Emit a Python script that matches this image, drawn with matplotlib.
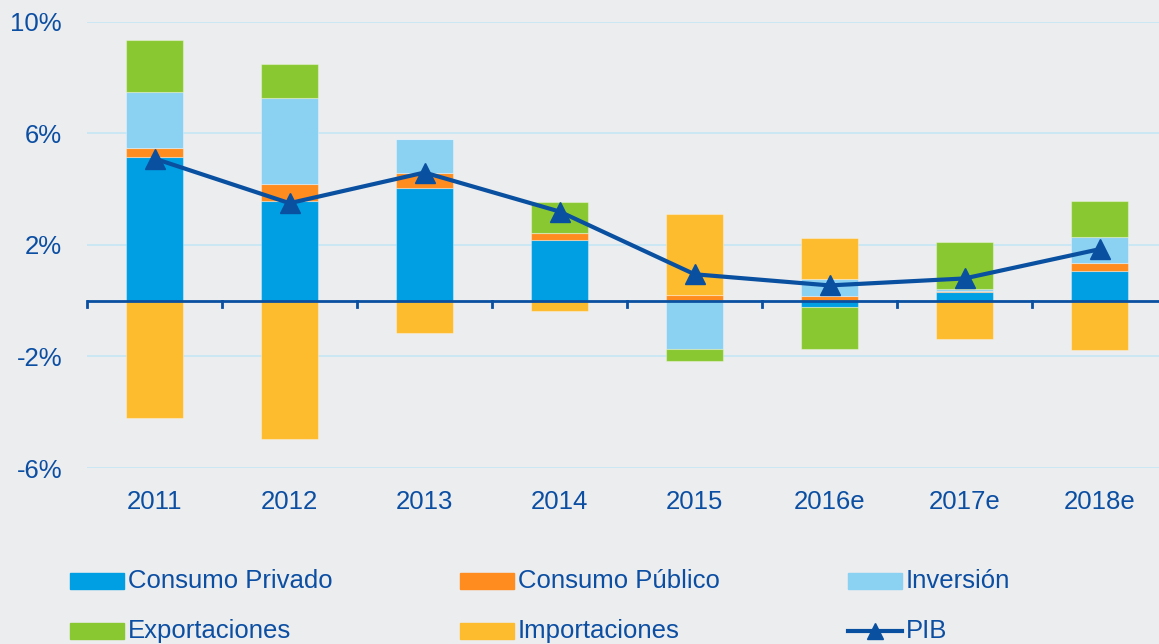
import numpy as np
import matplotlib
matplotlib.use("Agg")
from matplotlib import pyplot as plt
from matplotlib.patches import Rectangle
from matplotlib.lines import Line2D

years = ["2011", "2012", "2013", "2014", "2015", "2016e", "2017e", "2018e"]
consumo_privado = [5.14, 3.58, 4.06, 2.19, 0.0, -0.22, 0.31, 1.05]
consumo_publico = [0.35, 0.60, 0.52, 0.24, 0.22, 0.16, 0.04, 0.32]
inversion = [2.01, 3.08, 1.22, 0.0, -1.72, 0.62, 0.06, 0.93]
exportaciones = [1.86, 1.22, 0.0, 1.13, -0.43, -1.51, 1.71, 1.29]
importaciones = [-4.22, -4.96, -1.16, -0.35, 2.90, 1.47, -1.37, -1.76]
pib = [5.1, 3.5, 4.6, 3.2, 0.95, 0.55, 0.8, 1.85]

bg = "#ECEDEF"
txt = "#0B4EA2"
line_col = "#0A50A1"
series = [
    ("Consumo Privado", consumo_privado, "#009FE3"),
    ("Consumo Público", consumo_publico, "#FF8C1E"),
    ("Inversión", inversion, "#8BD1F2"),
    ("Exportaciones", exportaciones, "#8AC832"),
    ("Importaciones", importaciones, "#FDBB2E"),
]

plt.rcParams["font.family"] = ["Liberation Sans", "DejaVu Sans"]

W, H = 1159, 644
fig = plt.figure(figsize=(W / 100, H / 100), dpi=100, facecolor=bg)
ax = fig.add_axes([87 / W, (H - 468) / H, (W - 87) / W, 446 / H], facecolor=bg)

x = np.arange(len(years))
pos = np.zeros(len(years))
neg = np.zeros(len(years))
for name, vals, color in series:
    v = np.array(vals)
    bottom = np.where(v >= 0, pos, neg)
    ax.bar(x, v, width=0.42, bottom=bottom, color=color,
           edgecolor=(1, 1, 1, 0.35), linewidth=0.8, zorder=2)
    pos = pos + np.clip(v, 0, None)
    neg = neg + np.clip(v, None, 0)

ax.plot(x, pib, color=line_col, lw=3, marker="^", markersize=14, zorder=4)

ax.set_xlim(-0.5, 7.44)
ax.set_ylim(-6, 10)
ax.set_yticks([-6, -2, 2, 6, 10])
ax.set_yticklabels(["-6%", "-2%", "2%", "6%", "10%"])
ax.yaxis.grid(True, color="#C5E6F5", lw=1.2, zorder=0)
ax.tick_params(axis="y", length=0, pad=18, labelsize=18.5, labelcolor=txt)
ax.set_xticks(x)
ax.set_xticklabels(years)
ax.tick_params(axis="x", length=0, pad=16, labelsize=18.5, labelcolor=txt)
for s in ax.spines.values():
    s.set_visible(False)

# zero line with category separators
ax.axhline(0, color=line_col, lw=2, zorder=3)
for b in np.arange(-0.5, 7.5, 1.0):
    ax.plot([b, b], [0, -0.24], color=line_col, lw=2, zorder=3, clip_on=False)

# legend, laid out by hand in pixel positions
legend_items = [
    ("Consumo Privado", "#009FE3", 70, 581),
    ("Consumo Público", "#FF8C1E", 460, 581),
    ("Inversión", "#8BD1F2", 848, 581),
    ("Exportaciones", "#8AC832", 70, 631),
    ("Importaciones", "#FDBB2E", 460, 631),
    ("PIB", None, 848, 631),
]
for label, color, px, py in legend_items:
    fy = (H - py) / H
    if color is not None:
        fig.add_artist(Rectangle((px / W, (H - py - 8) / H), 54 / W, 16 / H,
                                 transform=fig.transFigure, color=color))
    else:
        fig.add_artist(Line2D([px / W, (px + 54) / W], [fy, fy], color=line_col,
                              lw=3, transform=fig.transFigure))
        fig.add_artist(Line2D([(px + 27) / W], [fy], color=line_col, marker="^",
                              markersize=12, transform=fig.transFigure))
    fig.text((px + 58) / W, fy, label, color=txt, fontsize=18.5, va="center")

plt.savefig("out.png", dpi=100, facecolor=bg)
